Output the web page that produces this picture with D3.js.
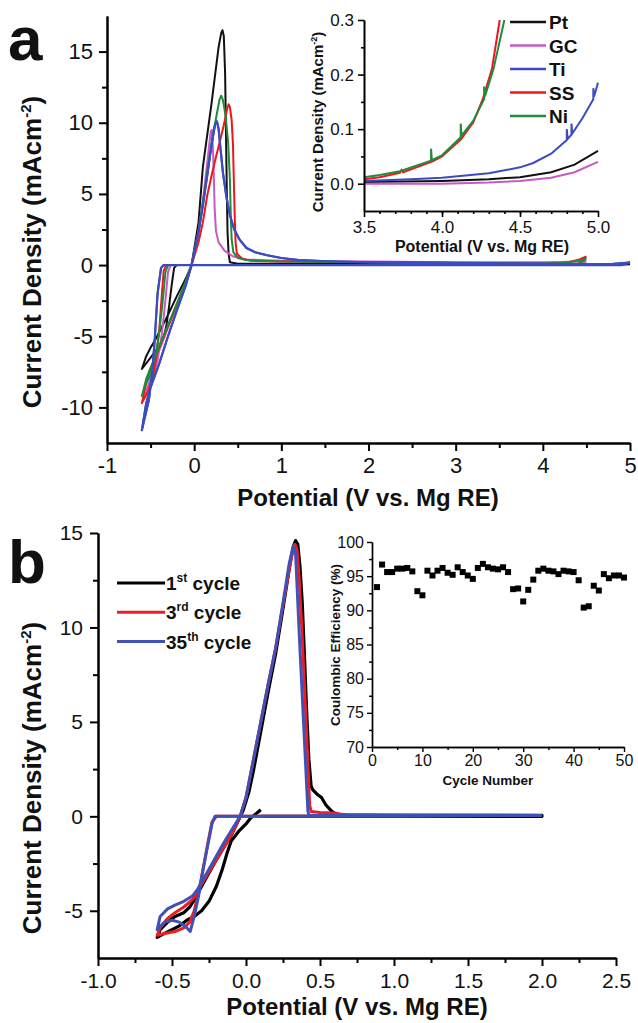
<!DOCTYPE html>
<html>
<head>
<meta charset="utf-8">
<script src="https://cdn.jsdelivr.net/npm/d3@7"></script>
<style>
  body { margin: 0; background: #fff; }
  text { font-family: "Liberation Sans", Arial, sans-serif; }
</style>
</head>
<body>
<script>
// ---------- data: panel a (CV loops, [potential V, current mA/cm2]) ----------
var series_a = ["Pt", "GC", "Ti", "SS", "Ni"];
var colors_a = ["#111111", "#c65ac6", "#3b4cc0", "#f0161c", "#1e8c3a"];

var pt_cv = [[5.0,0.06],[4.8,0.0],[2.0,0.0],[0.0,0.0],[-0.2,0.0],[-0.23,-0.2],[-0.26,-1.5],[-0.29,-3.0],[-0.32,-4.3],
  [-0.35,-5.1],[-0.4,-5.7],[-0.5,-6.5],[-0.6,-7.3],[-0.55,-6.4],[-0.5,-5.8],[-0.45,-5.3],[-0.4,-4.7],[-0.3,-3.5],
  [-0.2,-2.2],[-0.1,-1.0],[-0.03,0.0],[0.05,3.0],[0.1,6.9],[0.2,11.4],[0.28,15.3],[0.31,16.3],[0.325,16.5],
  [0.34,16.1],[0.355,13.5],[0.365,9.3],[0.375,5.0],[0.383,2.3],[0.395,0.8],[0.41,0.2],[0.5,0.1],[1.0,0.1],
  [2.0,0.08],[3.0,0.05],[4.0,0.01],[4.5,0.015],[4.8,0.03],[5.0,0.06]];
var gc_cv = [[4.5,0.25],[4.4,0.0],[2.0,0.0],[0.0,0.0],[-0.27,0.0],[-0.3,-0.5],[-0.33,-2.5],[-0.37,-4.8],[-0.42,-6.7],
  [-0.48,-8.0],[-0.57,-9.3],[-0.5,-7.9],[-0.4,-6.0],[-0.3,-4.4],[-0.2,-2.8],[-0.1,-1.3],[-0.03,0.0],[0.05,2.4],
  [0.1,4.5],[0.15,7.2],[0.19,9.4],[0.205,9.5],[0.22,7.5],[0.235,4.0],[0.25,2.4],[0.28,1.6],[0.35,1.0],[0.45,0.6],
  [0.6,0.4],[1.0,0.3],[2.0,0.25],[3.0,0.2],[4.0,0.2],[4.5,0.25]];
var ti_cv = [[5.0,0.18],[4.9,0.0],[2.0,0.0],[0.0,0.0],[-0.35,0.0],[-0.38,-0.2],[-0.42,-2.0],[-0.45,-5.0],[-0.48,-7.5],
  [-0.52,-9.5],[-0.57,-10.8],[-0.6,-11.6],[-0.55,-9.7],[-0.5,-8.6],[-0.4,-6.9],[-0.3,-5.0],[-0.2,-3.2],[-0.1,-1.5],
  [-0.03,0.0],[0.05,2.3],[0.1,4.2],[0.15,6.3],[0.2,8.5],[0.24,9.9],[0.26,10.1],[0.28,9.6],[0.3,8.3],[0.33,6.5],
  [0.37,4.8],[0.41,3.5],[0.46,2.5],[0.52,1.8],[0.6,1.2],[0.7,0.9],[0.83,0.7],[1.0,0.5],[1.2,0.35],[1.6,0.25],
  [2.0,0.2],[3.0,0.15],[4.0,0.1],[4.5,0.05],[4.8,0.08],[5.0,0.18]];
var ss_cv = [[4.5,0.6],[4.4,0.05],[3.0,0.0],[0.0,0.0],[-0.32,0.0],[-0.35,-0.4],[-0.37,-2.0],[-0.4,-4.5],[-0.43,-6.3],
  [-0.47,-7.8],[-0.53,-8.9],[-0.6,-9.7],[-0.55,-8.3],[-0.5,-7.4],[-0.4,-5.8],[-0.3,-4.3],[-0.2,-2.8],[-0.1,-1.3],
  [-0.03,0.0],[0.05,1.6],[0.1,3.0],[0.15,4.9],[0.2,6.3],[0.25,7.6],[0.3,8.8],[0.35,10.1],[0.38,11.0],[0.395,11.3],
  [0.41,11.1],[0.43,10.2],[0.445,8.5],[0.455,6.0],[0.465,3.5],[0.475,1.6],[0.49,0.8],[0.55,0.45],[0.65,0.3],
  [1.0,0.25],[2.0,0.2],[3.0,0.15],[4.0,0.08],[4.2,0.13],[4.3,0.22],[4.4,0.35],[4.5,0.6]];
var ni_cv = [[4.5,0.45],[4.4,0.05],[3.0,0.0],[0.0,0.0],[-0.3,0.0],[-0.33,-0.5],[-0.36,-2.5],[-0.4,-4.7],[-0.45,-6.6],
  [-0.5,-7.6],[-0.57,-8.6],[-0.6,-9.2],[-0.55,-8.0],[-0.5,-7.2],[-0.4,-5.7],[-0.3,-4.2],[-0.2,-2.7],[-0.1,-1.2],
  [-0.03,0.0],[0.05,2.3],[0.1,4.4],[0.15,6.5],[0.2,8.5],[0.25,10.3],[0.29,11.6],[0.31,11.9],[0.33,11.6],[0.36,10.5],
  [0.39,8.6],[0.41,6.0],[0.42,3.5],[0.43,1.8],[0.45,0.9],[0.5,0.5],[0.6,0.35],[1.0,0.25],[2.0,0.2],[3.0,0.15],
  [4.0,0.1],[4.2,0.14],[4.3,0.2],[4.4,0.3],[4.5,0.45]];
var cv_a = [pt_cv, gc_cv, ti_cv, ss_cv, ni_cv];

// inset a: anodic stability, 3.5 - 5.0 V
var pt_lsv = [[3.5,0.003],[4.0,0.005],[4.3,0.008],[4.5,0.012],[4.7,0.021],[4.85,0.035],[5.0,0.06]];
var gc_lsv = [[3.5,0.0],[4.0,0.0],[4.3,0.002],[4.5,0.005],[4.7,0.011],[4.85,0.021],[5.0,0.04]];
var ti_lsv = [[3.5,0.005],[3.8,0.008],[4.0,0.011],[4.3,0.019],[4.5,0.03],[4.585,0.038],[4.7,0.055],[4.8,0.08],
  [4.8,0.1],[4.805,0.082],[4.83,0.09],[4.83,0.11],[4.835,0.092],[4.9,0.12],[4.97,0.155],[4.97,0.175],[4.975,0.16],[5.0,0.185]];
var ss_lsv = [[3.5,0.008],[3.6,0.012],[3.73,0.02],[3.74,0.025],[3.75,0.021],[3.94,0.041],[4.0,0.05],[4.12,0.081],
  [4.2,0.112],[4.26,0.154],[4.32,0.21],[4.37,0.3]];
var ni_lsv = [[3.5,0.012],[3.6,0.016],[3.73,0.023],[3.93,0.042],[3.93,0.064],[3.935,0.043],[4.0,0.052],[4.12,0.085],
  [4.12,0.11],[4.125,0.088],[4.2,0.115],[4.27,0.155],[4.27,0.178],[4.275,0.16],[4.33,0.21],[4.40,0.3]];
var lsv_a = [pt_lsv, gc_lsv, ti_lsv, ss_lsv, ni_lsv];

// ---------- data: panel b ----------
var series_b = ["1", "3", "35"];
var sup_b = ["st", "rd", "th"];
var colors_b = ["#000000", "#ee1c25", "#3f51b7"];

var cycle1 = [[0.10,0.35],[0.07,0.15],[0.03,-0.1],[0.0,-0.4],[-0.05,-0.8],[-0.1,-1.3],[-0.13,-2.0],[-0.16,-2.8],
  [-0.2,-3.7],[-0.25,-4.5],[-0.3,-5.0],[-0.35,-5.3],[-0.4,-5.5],[-0.45,-5.8],[-0.5,-6.0],[-0.55,-6.2],[-0.6,-6.4],
  [-0.58,-6.0],[-0.53,-5.6],[-0.48,-5.3],[-0.42,-5.1],[-0.38,-4.8],[-0.34,-4.3],[-0.3,-3.7],[-0.2,-2.3],
  [-0.1,-1.0],[-0.05,-0.2],[-0.02,0.3],[0.02,1.3],[0.05,2.4],[0.1,4.5],[0.15,6.6],[0.2,8.6],[0.25,11.0],
  [0.3,13.5],[0.32,14.3],[0.335,14.6],[0.35,14.4],[0.365,13.2],[0.38,11.3],[0.395,8.5],[0.41,5.5],[0.425,3.0],
  [0.44,1.6],[0.45,1.42],[0.485,1.14],[0.51,1.0],[0.54,0.6],[0.58,0.26],[0.61,0.1],[0.7,0.05],[1.0,0.05],
  [1.5,0.05],[2.0,0.05],[2.0,0.0],[0.1,0.0]];
var cycle3 = [[2.0,0.05],[1.0,0.02],[0.0,0.0],[-0.2,0.0],[-0.23,-0.3],[-0.26,-1.5],[-0.29,-2.8],[-0.32,-4.0],
  [-0.35,-5.0],[-0.38,-5.6],[-0.42,-5.9],[-0.48,-6.1],[-0.55,-6.2],[-0.6,-6.3],[-0.58,-5.9],[-0.53,-5.4],
  [-0.48,-5.1],[-0.42,-4.8],[-0.36,-4.4],[-0.3,-3.6],[-0.2,-2.3],[-0.1,-1.0],[-0.04,0.0],[0.0,1.0],[0.05,3.0],
  [0.1,5.0],[0.15,7.0],[0.2,8.9],[0.25,11.2],[0.3,13.4],[0.32,14.2],[0.33,14.4],[0.345,14.1],[0.36,12.5],
  [0.38,9.5],[0.4,6.0],[0.42,2.5],[0.43,0.6],[0.44,0.25],[0.5,0.2],[0.6,0.18],[0.65,0.1],[1.0,0.07],[2.0,0.05]];
var cycle35 = [[2.0,0.05],[1.0,0.02],[0.0,0.0],[-0.21,0.0],[-0.23,-0.4],[-0.26,-1.6],[-0.29,-2.8],[-0.32,-4.2],
  [-0.35,-5.3],[-0.377,-6.1],[-0.4,-5.9],[-0.45,-5.6],[-0.5,-5.5],[-0.55,-5.6],[-0.6,-6.0],[-0.58,-5.3],
  [-0.53,-4.9],[-0.48,-4.7],[-0.42,-4.5],[-0.36,-4.2],[-0.33,-3.9],[-0.25,-2.8],[-0.15,-1.4],[-0.04,0.0],
  [0.0,1.0],[0.05,3.0],[0.1,5.0],[0.15,7.0],[0.2,8.9],[0.25,11.3],[0.29,13.3],[0.31,14.0],[0.32,14.3],
  [0.335,13.9],[0.36,9.6],[0.39,4.8],[0.418,0.3],[0.425,0.05],[1.0,0.05],[2.0,0.05]];
var cv_b = [cycle1, cycle3, cycle35];

// inset b: coulombic efficiency (%) for cycles 1..50
var cycles = d3.range(1, 51);
var ce = [93.4,96.7,95.6,95.6,96.1,96.1,96.2,95.7,92.8,92.2,
          95.8,95.1,95.8,96.2,95.5,95.2,96.3,95.6,95.1,94.6,
          96.2,96.8,96.3,96.1,96.0,96.3,95.6,93.1,93.2,91.3,
          93.0,94.5,95.8,96.1,95.8,95.7,95.3,95.8,95.7,95.6,
          94.4,90.4,90.6,93.6,92.9,95.3,94.7,95.1,95.1,94.8];

// ---------- tick values ----------
var ax_ticks = [-1, 0, 1, 2, 3, 4, 5], ax_minor = [-0.5, 0.5, 1.5, 2.5, 3.5, 4.5];
var ay_ticks = [-10, -5, 0, 5, 10, 15], ay_minor = [-7.5, -2.5, 2.5, 7.5, 12.5];
var iax_ticks = [3.5, 4.0, 4.5, 5.0], iax_minor = d3.range(3.6, 5.0, 0.1);
var iay_ticks = [0.0, 0.1, 0.2, 0.3], iay_minor = [0.05, 0.15, 0.25];
var bx_ticks = [-1.0, -0.5, 0.0, 0.5, 1.0, 1.5, 2.0, 2.5], bx_minor = d3.range(-0.75, 2.5, 0.5);
var by_ticks = [-5, 0, 5, 10, 15], by_minor = [-2.5, 2.5, 7.5, 12.5];
var ibx_ticks = [0, 10, 20, 30, 40, 50], ibx_minor = [5, 15, 25, 35, 45];
var iby_ticks = [70, 75, 80, 85, 90, 95, 100], iby_minor = [72.5, 77.5, 82.5, 87.5, 92.5, 97.5];

var svg = d3.select("body").append("svg")
    .attr("width", 638)
    .attr("height", 1023);

function drawAxes(g, x, y, o) {
    var x0 = x.range()[0], y0 = y.range()[0];
    var xa = g.append("g").attr("transform", "translate(0," + y0 + ")");
    xa.call(d3.axisBottom(x).tickValues(o.xMinor).tickSize(o.minor).tickSizeOuter(0).tickFormat(""));
    xa.append("g").call(d3.axisBottom(x).tickValues(o.xTicks).tickSize(o.major).tickSizeOuter(0)
        .tickPadding(o.pad).tickFormat(o.xFmt));
    var ya = g.append("g").attr("transform", "translate(" + x0 + ",0)");
    ya.call(d3.axisLeft(y).tickValues(o.yMinor).tickSize(o.minor).tickSizeOuter(0).tickFormat(""));
    ya.append("g").call(d3.axisLeft(y).tickValues(o.yTicks).tickSize(o.major).tickSizeOuter(0)
        .tickPadding(o.pad).tickFormat(o.yFmt));
    g.selectAll("path.domain").attr("stroke", "#000").attr("stroke-width", o.sw);
    g.selectAll(".tick line").attr("stroke", "#000").attr("stroke-width", o.sw);
    g.selectAll(".tick text").attr("fill", "#111")
        .style("font-family", "'Liberation Sans', Arial, sans-serif")
        .style("font-size", o.fs + "px");
}

function yTitle(g, cx, cy, fs, supFs) {
    var t = g.append("text")
        .attr("transform", "translate(" + cx + "," + cy + ") rotate(-90)")
        .attr("text-anchor", "middle")
        .style("font-size", fs + "px").style("font-weight", "bold").attr("fill", "#111");
    t.append("tspan").text("Current Density (mAcm");
    t.append("tspan").attr("dy", -fs * 0.4).style("font-size", supFs + "px").text("-2");
    t.append("tspan").attr("dy", fs * 0.4).text(")");
}

function xTitle(g, cx, cy, fs, label) {
    g.append("text").attr("x", cx).attr("y", cy).attr("text-anchor", "middle")
        .style("font-size", fs + "px").style("font-weight", "bold").attr("fill", "#111")
        .text(label);
}

var fmt1 = function(d) { return d.toFixed(1); };
var fmt0 = function(d) { return String(d); };

// ================= panel a =================
var xa = d3.scaleLinear().domain([-1, 5]).range([107, 630]);
var ya = d3.scaleLinear().domain([-12.5, 17.5]).range([443, 16]);
var ga = svg.append("g");

var line_a = d3.line().x(function(d) { return xa(d[0]); }).y(function(d) { return ya(d[1]); });
ga.selectAll("path.cv").data(cv_a).enter().append("path")
    .attr("class", "cv")
    .attr("d", line_a)
    .attr("fill", "none")
    .attr("stroke", function(d, i) { return colors_a[i]; })
    .attr("stroke-width", 2)
    .attr("stroke-linejoin", "round");
// Ti drawn on top like the original
ga.append("path").attr("d", line_a(ti_cv)).attr("fill", "none")
    .attr("stroke", colors_a[2]).attr("stroke-width", 2.2).attr("stroke-linejoin", "round");

drawAxes(ga, xa, ya, {xTicks: ax_ticks, xMinor: ax_minor, yTicks: ay_ticks, yMinor: ay_minor,
    major: 8, minor: 5, pad: 6, sw: 2, fs: 22, xFmt: fmt0, yFmt: fmt0});
yTitle(ga, 41, 252, 26, 15);
xTitle(ga, 368, 506, 24, "Potential (V vs. Mg RE)");
ga.append("text").attr("x", 8).attr("y", 60).style("font-size", "62px").style("font-weight", "bold")
    .attr("fill", "#111").text("a");

// inset a
var ixa = d3.scaleLinear().domain([3.5, 5.0]).range([364, 598]);
var iya = d3.scaleLinear().domain([-0.05, 0.3]).range([211, 20]);
var gia = svg.append("g");
gia.append("rect").attr("x", 365).attr("y", 18).attr("width", 236).attr("height", 192).attr("fill", "#fff");
gia.append("defs").append("clipPath").attr("id", "clipA").append("rect")
    .attr("x", 364).attr("y", 19).attr("width", 240).attr("height", 192);
var line_ia = d3.line().x(function(d) { return ixa(d[0]); }).y(function(d) { return iya(d[1]); });
gia.append("g").attr("clip-path", "url(#clipA)")
    .selectAll("path").data(lsv_a).enter().append("path")
    .attr("d", line_ia)
    .attr("fill", "none")
    .attr("stroke", function(d, i) { return colors_a[i]; })
    .attr("stroke-width", 2);
drawAxes(gia, ixa, iya, {xTicks: iax_ticks, xMinor: iax_minor, yTicks: iay_ticks, yMinor: iay_minor,
    major: 6, minor: 3, pad: 4, sw: 1.6, fs: 17, xFmt: fmt1, yFmt: fmt1});
yTitle(gia, 323, 122, 15, 9);
xTitle(gia, 482, 252, 16, "Potential (V vs. Mg RE)");

// legend a
var lega = svg.append("g").selectAll("g").data(series_a).enter().append("g")
    .attr("transform", function(d, i) { return "translate(510," + (22 + i * 23.5) + ")"; });
lega.append("line").attr("x1", 0).attr("x2", 36).attr("y1", 0).attr("y2", 0)
    .attr("stroke", function(d, i) { return colors_a[i]; }).attr("stroke-width", 2.5);
lega.append("text").attr("x", 39).attr("y", 7).style("font-size", "19px").style("font-weight", "bold")
    .attr("fill", "#111").text(function(d) { return d; });

// ================= panel b =================
var xb = d3.scaleLinear().domain([-1.0, 2.5]).range([98, 616]);
var yb = d3.scaleLinear().domain([-7.5, 15]).range([958, 533]);
var gb = svg.append("g");
var line_b = d3.line().x(function(d) { return xb(d[0]); }).y(function(d) { return yb(d[1]); });
gb.selectAll("path.cv").data(cv_b).enter().append("path")
    .attr("class", "cv")
    .attr("d", line_b)
    .attr("fill", "none")
    .attr("stroke", function(d, i) { return colors_b[i]; })
    .attr("stroke-width", function(d, i) { return i === 0 ? 3.2 : 3; })
    .attr("stroke-linejoin", "round");

drawAxes(gb, xb, yb, {xTicks: bx_ticks, xMinor: bx_minor, yTicks: by_ticks, yMinor: by_minor,
    major: 8, minor: 5, pad: 7, sw: 2, fs: 21, xFmt: fmt1, yFmt: fmt0});
yTitle(gb, 41, 778, 26, 15);
xTitle(gb, 357, 1015, 24, "Potential (V vs. Mg RE)");
gb.append("text").attr("x", 8).attr("y", 583).style("font-size", "62px").style("font-weight", "bold")
    .attr("fill", "#111").text("b");

// legend b
var legb = svg.append("g").selectAll("g").data(series_b).enter().append("g")
    .attr("transform", function(d, i) { return "translate(117," + (583 + i * 29.3) + ")"; });
legb.append("line").attr("x1", 0).attr("x2", 48).attr("y1", 0).attr("y2", 0)
    .attr("stroke", function(d, i) { return colors_b[i]; }).attr("stroke-width", 3);
var lt = legb.append("text").attr("x", 49).attr("y", 7).style("font-size", "19px").style("font-weight", "bold")
    .attr("fill", "#111");
lt.append("tspan").text(function(d) { return d; });
lt.append("tspan").attr("dy", -8).style("font-size", "12px").text(function(d, i) { return sup_b[i]; });
lt.append("tspan").attr("dy", 8).text(" cycle");

// inset b
var ixb = d3.scaleLinear().domain([0, 50]).range([372, 624]);
var iyb = d3.scaleLinear().domain([70, 100]).range([747, 542]);
var gib = svg.append("g");
drawAxes(gib, ixb, iyb, {xTicks: ibx_ticks, xMinor: ibx_minor, yTicks: iby_ticks, yMinor: iby_minor,
    major: 5, minor: 3, pad: 3, sw: 1.4, fs: 16, xFmt: fmt0, yFmt: fmt0});
gib.selectAll("rect.pt").data(ce).enter().append("rect")
    .attr("class", "pt")
    .attr("x", function(d, i) { return ixb(cycles[i]) - 3; })
    .attr("y", function(d) { return iyb(d) - 3; })
    .attr("width", 6).attr("height", 6)
    .attr("fill", "#000");
gib.append("text")
    .attr("transform", "translate(340,645) rotate(-90)")
    .attr("text-anchor", "middle")
    .style("font-size", "13.5px").style("font-weight", "bold").attr("fill", "#111")
    .text("Coulombic Efficiency (%)");
xTitle(gib, 488, 785, 13.5, "Cycle Number");
</script>
</body>
</html>
